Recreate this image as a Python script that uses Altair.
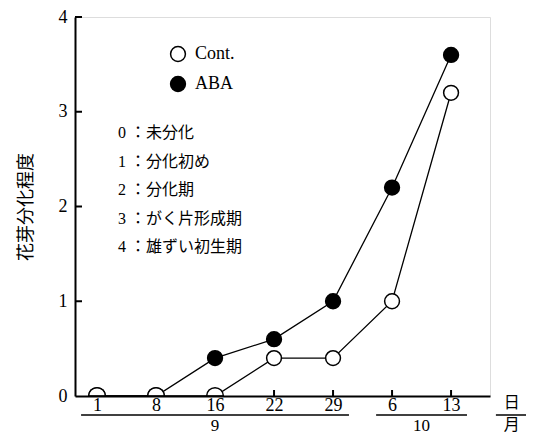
import altair as alt
import pandas as pd

# ---- data ----
days = ["1", "8", "16", "22", "29", "6", "13"]
month_of_day = ["9", "9", "9", "9", "9", "10", "10"]
cont = [0, 0, 0, 0.4, 0.4, 1.0, 3.2]
aba = [0, 0, 0.4, 0.6, 1.0, 2.2, 3.6]
series_names = ["Cont.", "ABA"]
months = ["9", "10"]
y_ticks = [1, 2, 3, 4]
stage_lines = ["0 ：未分化", "1 ：分化初め", "2 ：分化期", "3 ：がく片形成期", "4 ：雄ずい初生期"]
y_title = "花芽分化程度"

W, H = 415, 379
TOP = 9
SERIF = "'Liberation Serif', 'Noto Sans CJK JP'"
CJK = "'Noto Sans CJK JP'"
HALF = "M -1.128 0 A 1.128 1.128 0 0 1 1.128 0 Z"  # upper half circle

rows = []
for i, d in enumerate(days):
    rows.append({"i": i, "day": d, "series": "ABA", "v": aba[i]})
for i, d in enumerate(days):
    rows.append({"i": i, "day": d, "series": "Cont.", "v": cont[i]})
df = pd.DataFrame(rows)

mrows = []
for m in months:
    idx = [k for k, mm in enumerate(month_of_day) if mm == m]
    mrows.append({"month": m, "a": min(idx) - 0.27, "b": max(idx) + 0.27,
                  "c": (min(idx) + max(idx)) / 2})
mdf = pd.DataFrame(mrows)

xscale = alt.Scale(domain=[-0.373, 6.66], nice=False, zero=False)
yscale = alt.Scale(domain=[0, 4], nice=False)
label_expr = "[" + ",".join(f"'{d}'" for d in days) + "][datum.value]"

x_enc = alt.X("i:Q", scale=xscale,
              axis=alt.Axis(title=None, values=list(range(len(days))),
                            labelExpr=label_expr, ticks=False, grid=False,
                            labelFont=SERIF, labelFontSize=18, labelPadding=0,
                            domainColor="black", domainWidth=2, labelColor="black",
                            zindex=1))
y_enc = alt.Y("v:Q", scale=yscale,
              axis=alt.Axis(title=y_title, values=[0, 1, 2, 3, 4], format="d",
                            ticks=False, grid=False, labelFont=SERIF,
                            labelFontSize=18, labelPadding=8, labelColor="black",
                            domainColor="black", domainWidth=2,
                            titleFont=CJK, titleFontSize=18, titleFontWeight="normal",
                            titlePadding=23, titleColor="black", zindex=1))

lines = alt.Chart(df).mark_line(color="black", strokeWidth=1.3).encode(
    x=x_enc, y=y_enc, detail="series:N")

points = alt.Chart(df).mark_point(filled=False, size=220,
                                  stroke="black", strokeWidth=1.5, opacity=1).encode(
    x=alt.X("i:Q", scale=xscale),
    y=alt.Y("v:Q", scale=yscale),
    shape=alt.condition("datum.v == 0", alt.value(HALF), alt.value("circle")),
    fill=alt.Fill("series:N",
                  scale=alt.Scale(domain=series_names, range=["white", "black"]),
                  legend=alt.Legend(title=None, orient="none", legendX=94, legendY=28,
                                    symbolType="circle", symbolSize=220,
                                    symbolStrokeColor="black", symbolStrokeWidth=1.5,
                                    labelFont=SERIF, labelFontSize=18,
                                    labelColor="black", rowPadding=8, labelOffset=8)),
)

ytick_df = pd.DataFrame({"t": y_ticks})
yticks = alt.Chart(ytick_df).mark_rule(color="black", strokeWidth=2).encode(
    y=alt.Y("t:Q", scale=yscale), x=alt.value(0), x2=alt.value(7))

xtick_df = pd.DataFrame({"i": list(range(len(days)))})
xticks = alt.Chart(xtick_df).mark_rule(color="black", strokeWidth=2).encode(
    x=alt.X("i:Q", scale=xscale), y=alt.value(H), y2=alt.value(H - 6))

LINE_Y = 398          # plot coords (page y ≈ 415)
BOTTOM_BASE = 414     # baseline of month labels (page y ≈ 431)
mlines = alt.Chart(mdf).mark_rule(color="black", strokeWidth=1.3).encode(
    x=alt.X("a:Q", scale=xscale), x2="b:Q", y=alt.value(LINE_Y))
mlabels = alt.Chart(mdf).mark_text(font=SERIF, fontSize=17, color="black",
                                   baseline="alphabetic").encode(
    x=alt.X("c:Q", scale=xscale), y=alt.value(BOTTOM_BASE), text="month:N")

unit_df = pd.DataFrame({"a": [6.76], "b": [7.3], "c": [7.03], "top": ["日"], "bot": ["月"]})
uline = alt.Chart(unit_df).mark_rule(color="black", strokeWidth=1.3).encode(
    x=alt.X("a:Q", scale=xscale), x2="b:Q", y=alt.value(LINE_Y))
utop = alt.Chart(unit_df).mark_text(font=CJK, fontSize=16, color="black",
                                    baseline="middle").encode(
    x=alt.X("c:Q", scale=xscale), y=alt.value(LINE_Y - 12), text="top:N")
ubot = alt.Chart(unit_df).mark_text(font=CJK, fontSize=16, color="black",
                                    baseline="alphabetic").encode(
    x=alt.X("c:Q", scale=xscale), y=alt.value(BOTTOM_BASE - 1), text="bot:N")

stage_df = pd.DataFrame({"k": list(range(len(stage_lines))), "txt": stage_lines})
stages = alt.Chart(stage_df).transform_calculate(py="116 + datum.k * 28.5").mark_text(
    font=SERIF, fontSize=16, color="black", align="left", baseline="middle").encode(
    x=alt.value(43), y=alt.Y("py:Q", scale=None), text="txt:N")

chart = alt.layer(yticks, xticks, lines, points, mlines, mlabels, uline, utop,
                  ubot, stages).properties(
    width=W, height=H,
    autosize=alt.AutoSizeParams(type="none"),
    padding={"left": 67, "top": TOP, "right": 36, "bottom": 39},
).configure_view(stroke=None).configure(background="white")

chart.save("out.html", embed_options={"renderer": "svg", "actions": False})
